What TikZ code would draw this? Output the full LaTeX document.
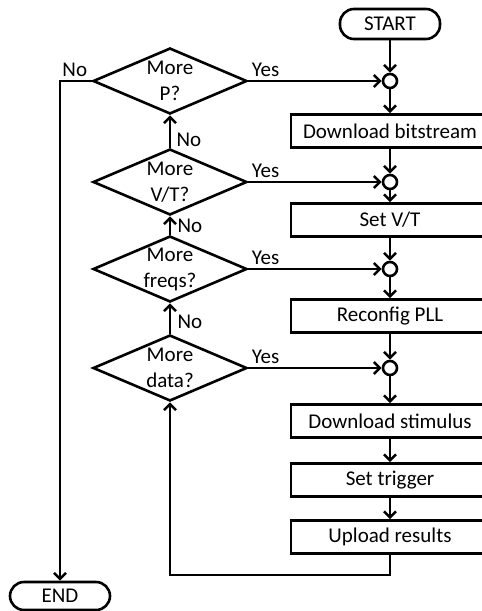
\documentclass[tikz,border=0pt]{standalone}
\usepackage{fontspec}
\setmainfont{Carlito}
\usetikzlibrary{shapes.geometric, arrows.meta}

\begin{document}
\begin{tikzpicture}[
    x=1pt, y=-1pt,
    line width=2.6pt,
    every node/.style={font=\fontsize{21}{26}\selectfont},
    terminal/.style={rectangle, draw, rounded corners=14pt, minimum width=100pt, minimum height=30pt},
    process/.style={rectangle, draw, minimum width=198pt, minimum height=33pt},
    decision/.style={diamond, draw, aspect=2.33, minimum width=154pt, minimum height=66pt, inner sep=-2pt, align=center},
    junction/.style={circle, draw, minimum size=14pt, inner sep=0pt},
    arrow/.style={-{Straight Barb[length=6pt, width=12pt]}}
]
\useasboundingbox (0,0) rectangle (482,611);

% main column
\node[terminal] (start) at (390,24) {START};
\node[junction] (c1) at (390,81) {};
\node[process] (bitstream) at (390,131) {Download bitstream};
\node[junction] (c2) at (390,182) {};
\node[process] (setvt) at (390,220) {Set V/T};
\node[junction] (c3) at (390,269) {};
\node[process] (pll) at (390,316) {Reconfig PLL};
\node[junction] (c4) at (390,368) {};
\node[process] (stimulus) at (390,421) {Download stimulus};
\node[process] (trigger) at (390,480) {Set trigger};
\node[process] (upload) at (390,537) {Upload results};

% decisions
\node[decision] (moreP) at (170,81) {More\\P?};
\node[decision] (moreVT) at (170,182) {More\\V/T?};
\node[decision] (morefreq) at (170,269) {More\\freqs?};
\node[decision] (moredata) at (170,368) {More\\data?};

\node[terminal, minimum height=28pt] (stop) at (60,596) {END};

\draw[arrow] (start) -- (c1);
\draw[arrow] (c1) -- (bitstream);
\draw[arrow] (bitstream) -- (c2);
\draw[arrow] (c2) -- (setvt);
\draw[arrow] (setvt) -- (c3);
\draw[arrow] (c3) -- (pll);
\draw[arrow] (pll) -- (c4);
\draw[arrow] (c4) -- (stimulus);
\draw[arrow] (stimulus) -- (trigger);
\draw[arrow] (trigger) -- (upload);

\draw[arrow] (moreP.east) -- node[above, pos=0.13] (yesP) {Yes} (c1.west);
\draw[arrow] (moreVT.east) -- node[above, pos=0.13] (yesVT) {Yes} (c2.west);
\draw[arrow] (morefreq.east) -- node[above, pos=0.13] (yesfreq) {Yes} (c3.west);
\draw[arrow] (moredata.east) -- node[above, pos=0.13] (yesdata) {Yes} (c4.west);

\draw[arrow] (moreVT.north) -- node[right, pos=0.25, xshift=2pt] (noVT) {No} (moreP.south);
\draw[arrow] (morefreq.north) -- node[right, pos=0.5, xshift=3pt] (nofreq) {No} (moreVT.south);
\draw[arrow] (moredata.north) -- node[right, pos=0.4, xshift=3pt] (nodata) {No} (morefreq.south);

\draw[arrow] (moreP.west) node[above left] (noP) {No} -| (stop.north);
\draw[arrow] (upload.south) -- ++(0,20) -| (moredata.south);

\end{tikzpicture}
\end{document}
